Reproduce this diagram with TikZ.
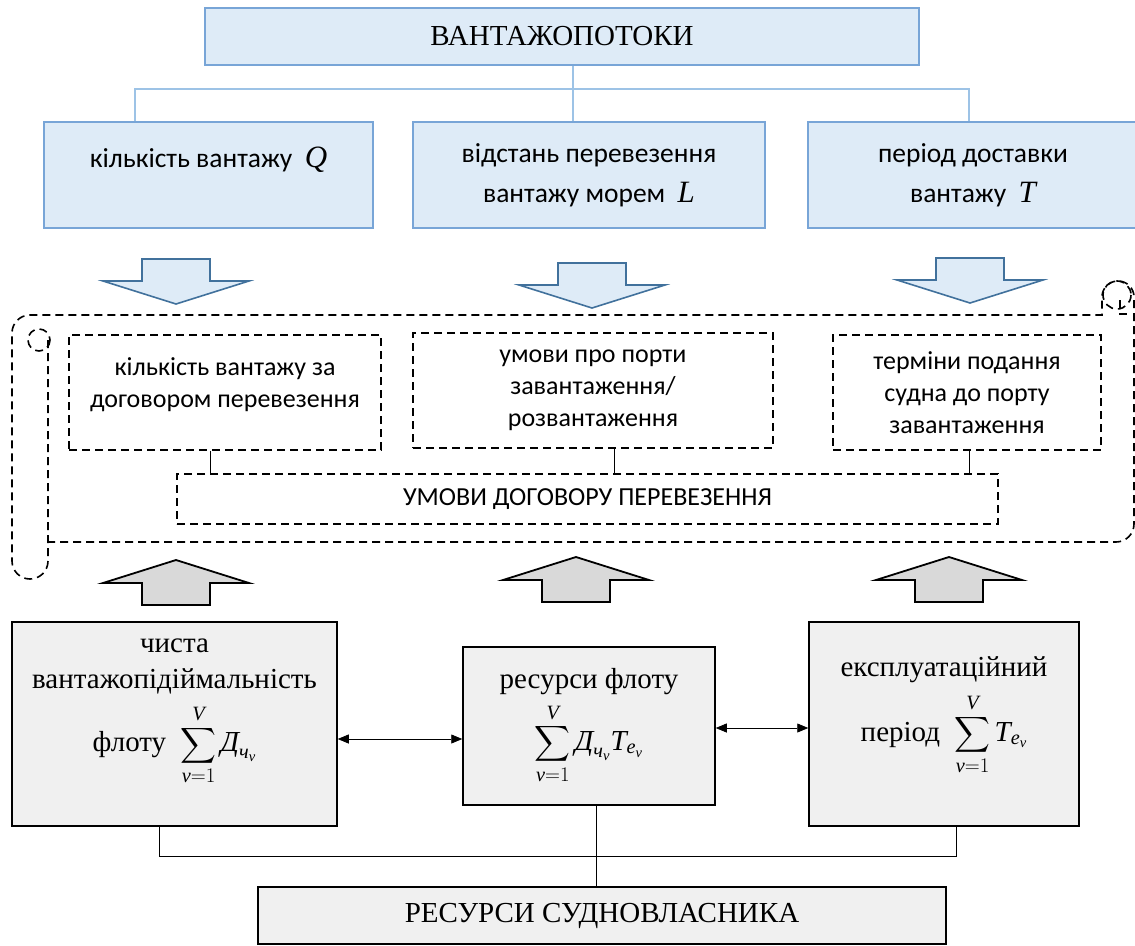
\documentclass[tikz,border=0pt]{standalone}
\usepackage{amsmath}
\usepackage{fontspec}
\setmainfont{Liberation Serif}
\newfontfamily\calfont{Carlito}
\usetikzlibrary{arrows.meta,positioning}

\definecolor{flowfill}{RGB}{222,235,247}
\definecolor{flowline}{RGB}{120,165,215}
\definecolor{flowlink}{RGB}{157,195,230}
\definecolor{arrowline}{RGB}{65,113,156}
\definecolor{upfill}{RGB}{217,217,217}
\definecolor{resfill}{RGB}{240,240,240}

\newcommand{\ital}[1]{\text{\itshape #1}}

\begin{document}
\begin{tikzpicture}[x=1pt, y=-1pt,
    flowbox/.style={draw=flowline, fill=flowfill, line width=1.5pt, inner sep=0pt},
    termbox/.style={draw, line width=1.6pt, dash pattern=on 8pt off 5pt, inner sep=0pt},
    resbox/.style={draw, fill=resfill, line width=1.5pt, inner sep=0pt},
    scrollline/.style={line width=1.6pt, dash pattern=on 8pt off 5pt},
    serifText/.style={font=\fontsize{29}{36}\selectfont, align=center},
    sansBig/.style={font=\calfont\fontsize{27.5}{40}\selectfont, align=center},
    sansText/.style={font=\calfont\fontsize{26}{32}\selectfont, align=center},
    flowlinkline/.style={flowlink, line width=1.2pt},
    thinlink/.style={line width=0.8pt},
    downarrow/.style={draw=arrowline, fill=flowfill, line width=1.6pt},
    uparrow/.style={draw, fill=upfill, line width=1.8pt},
    dbl/.style={{Triangle[length=11pt,width=9pt]}-{Triangle[length=11pt,width=9pt]}, line width=0.8pt}
]
\useasboundingbox (0,0) rectangle (1135,945);

% Cargo flows
\node[flowbox, serifText, minimum width=714pt, minimum height=57pt] (flows) at (562,36.5) {ВАНТАЖОПОТОКИ};
\node[flowbox, minimum width=329pt, minimum height=106pt,
      label={[sansBig, yshift=15pt]center:{кількість вантажу\ \ {\rmfamily\itshape\fontsize{31}{40}\selectfont Q}}}] (qty) at (208.5,175) {};
\node[flowbox, sansBig, minimum width=352pt, minimum height=106pt] (dist) at (589,175) {відстань перевезення\\вантажу морем\ \ {\rmfamily\itshape\fontsize{31}{40}\selectfont L}};
\node[flowbox, sansBig, minimum width=330pt, minimum height=106pt] (per) at (973,175) {період доставки\\вантажу\ \ {\rmfamily\itshape\fontsize{31}{40}\selectfont T}};

\coordinate (busL) at (135,89);
\coordinate (busM) at (573,89);
\coordinate (busR) at (969,89);
\draw[flowlinkline] (flows.south -| busM) -- (dist.north -| busM);
\draw[flowlinkline] (qty.north -| busL) -- (busL) -- (busR) -- (per.north -| busR);

% Arrows down
\foreach \cx/\ty in {176/259, 592/263, 970/258}
  \draw[downarrow] (\cx-34,\ty) -- (\cx+34,\ty) -- (\cx+34,\ty+22) -- (\cx+73,\ty+22)
    -- (\cx,\ty+45) -- (\cx-73,\ty+22) -- (\cx-34,\ty+22) -- cycle;

% Scroll
\draw[scrollline] (48,340) -- (48,561) arc[start angle=0, end angle=180, radius=18]
  -- (12,333) arc[start angle=180, end angle=270, radius=18] -- (1102,315) -- (1102,297)
  arc[start angle=180, end angle=360, radius=16] -- (1134,524)
  arc[start angle=0, end angle=90, radius=18] -- (48,542);
\draw[scrollline] (39,340) circle[radius=11];
\draw[scrollline] (1117,295) circle[radius=14];
\draw[scrollline] (1120,300) -- (1120,314) -- (1127,314);

% Contract terms
\node[termbox, minimum width=312pt, minimum height=115pt,
      label={[sansText, yshift=8pt]center:{кількість вантажу за\\договором перевезення}}] (cargoterm) at (225,392.5) {};
\node[termbox, sansText, minimum width=360pt, minimum height=115pt] (portterm) at (593,390.5) {умови про порти\\завантаження/\\розвантаження};
\node[termbox, sansText, minimum width=268pt, minimum height=115pt] (timeterm) at (967,392.5) {терміни подання\\судна до порту\\завантаження};
\node[termbox, sansText, minimum width=821pt, minimum height=50pt] (contract) at (587.5,499) {УМОВИ ДОГОВОРУ ПЕРЕВЕЗЕННЯ};

\foreach \n/\dx in {cargoterm/-15, portterm/21, timeterm/2}
  \draw[thinlink] (\n.south) ++(\dx,0) coordinate (tap) -- (tap |- contract.north);

% Arrows up
\foreach \cx/\ty in {176/560, 576/557, 949/557}
  \draw[uparrow] (\cx,\ty) -- (\cx+73,\ty+23) -- (\cx+34,\ty+23) -- (\cx+34,\ty+45)
    -- (\cx-34,\ty+45) -- (\cx-34,\ty+23) -- (\cx-73,\ty+23) -- cycle;

% Shipowner resources
\node[resbox, minimum width=325pt, minimum height=204pt,
      label={[serifText, yshift=12pt]center:{чиста\\вантажопідіймальність\\[10pt]флоту\ \ $\displaystyle\sum_{\ital{v}=1}^{\ital{V}}\ital{Д}_{\ital{ч}_{\ital{v}}}$}}] (capacity) at (174.5,724) {};
\node[resbox, serifText, minimum width=252pt, minimum height=158pt] (fleet) at (589,726)
  {ресурси флоту\\[8pt]$\displaystyle\sum_{\ital{v}=1}^{\ital{V}}\ital{Д}_{\ital{ч}_{\ital{v}}}\ital{T}_{\ital{e}_{\ital{v}}}$};
\node[resbox, minimum width=270pt, minimum height=204pt,
      label={[serifText, yshift=8pt]center:{експлуатаційний\\[10pt]період\ \ $\displaystyle\sum_{\ital{v}=1}^{\ital{V}}\ital{T}_{\ital{e}_{\ital{v}}}$}}] (period) at (944,724) {};
\node[resbox, serifText, minimum width=688pt, minimum height=57pt] (owner) at (602,915.5) {РЕСУРСИ СУДНОВЛАСНИКА};

\draw[dbl] (capacity.east) ++(0,15) coordinate (lt) -- (lt -| fleet.west);
\draw[dbl] (fleet.east) ++(0,2) coordinate (rt) -- (rt -| period.west);

\coordinate (resbus) at (0,856);
\draw[thinlink] (capacity.south) ++(-15,0) coordinate (lb) -- (lb |- resbus) -| ([xshift=12pt]period.south);
\draw[thinlink] (fleet.south) ++(7,0) coordinate (mb) -- (mb |- owner.north);

\end{tikzpicture}
\end{document}
